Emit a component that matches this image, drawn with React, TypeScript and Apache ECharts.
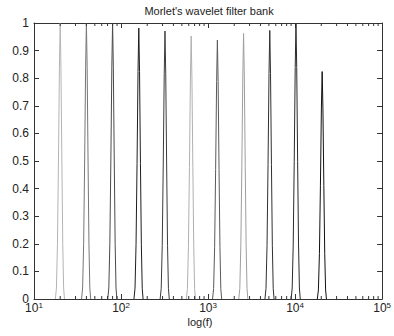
import React, { useEffect, useRef } from "react";
import * as echarts from "echarts";

// Filter centre frequencies (Hz) read from the peak positions
const centers = [20, 40, 80, 160, 320, 640, 1280, 2560, 5120, 10240, 20480];
// Peak heights
const peakHeights = [1.0, 1.0, 1.0, 0.982, 0.971, 0.953, 0.938, 0.962, 0.973, 0.998, 0.824];
// Grey shade of each filter curve
const peakColors = ["#b4b4b4", "#767676", "#4a4a4a", "#1e1e1e", "#3c3c3c", "#b0b0b0", "#5a5a5a", "#9e9e9e", "#303030", "#2a2a2a", "#111111"];
// Shape of one peak: f / fc and relative level
const profileRatio = [0.88, 0.905, 0.93, 0.955, 0.98, 1, 1.02, 1.045, 1.07, 1.095, 1.12];
const profileLevel = [0, 0.04, 0.2, 0.5, 0.84, 1, 0.84, 0.5, 0.2, 0.04, 0];

const yTickLabels = ["0", "0.1", "0.2", "0.3", "0.4", "0.5", "0.6", "0.7", "0.8", "0.9", "1"];
const xExponents = ["1", "2", "3", "4", "5"];
const xMin = 10;
const xMax = 100000;
const minorTickValues: number[] = [];
[10, 100, 1000, 10000].forEach((d) => {
  [2, 3, 4, 5, 6, 7, 8, 9].forEach((m) => minorTickValues.push(m * d));
});

const FONT = "'Liberation Sans', Arial, Helvetica, sans-serif";
const INK = "#222";
const AXIS = "#333";

export default function App() {
  const ref = useRef<HTMLDivElement>(null);
  useEffect(() => {
    if (!ref.current) return;
    const chart = echarts.init(ref.current, null, { renderer: "svg" });

    const peakSeries = centers.map((c, i) => ({
      type: "line",
      name: "filter " + (i + 1),
      data: profileRatio.map((r, j) => [c * r, peakHeights[i] * profileLevel[j]]),
      showSymbol: false,
      symbol: "none",
      lineStyle: { color: peakColors[i], width: 1 },
      xAxisIndex: 0,
      yAxisIndex: 0,
      z: 3,
    }));

    const axisLine = { show: true, onZero: false, lineStyle: { color: AXIS, width: 1 } };

    chart.setOption({
      animation: false,
      backgroundColor: "#ffffff",
      textStyle: { fontFamily: FONT },
      grid: { left: 34, right: 9, top: 23, bottom: 37, containLabel: false },
      graphic: [
        {
          type: "text",
          x: 209,
          y: 5,
          style: {
            text: "Morlet's wavelet filter bank",
            fontSize: 11,
            fontFamily: FONT,
            fill: INK,
            textAlign: "center",
          },
        },
        {
          type: "text",
          x: 200,
          y: 316,
          style: {
            text: "log(f)",
            fontSize: 11,
            fontFamily: FONT,
            fill: INK,
            textAlign: "center",
          },
        },
      ],
      xAxis: [
        {
          type: "log",
          logBase: 10,
          min: xMin,
          max: xMax,
          position: "bottom",
          axisLine,
          splitLine: { show: false },
          axisTick: { show: true, inside: true, length: 5, lineStyle: { color: AXIS } },
          axisLabel: {
            show: true,
            showMinLabel: true,
            showMaxLabel: true,
            hideOverlap: false,
            margin: 2,
            color: INK,
            fontFamily: FONT,
            formatter: (v: number) => {
              const e = Math.round(Math.log10(v));
              return "{b|10}{s|" + xExponents[e - 1] + "}";
            },
            rich: {
              b: { fontSize: 12, lineHeight: 13, verticalAlign: "bottom", fontFamily: FONT, color: INK },
              s: { fontSize: 8, lineHeight: 8, verticalAlign: "top", fontFamily: FONT, color: INK },
            },
          },
        },
        {
          type: "log",
          logBase: 10,
          min: xMin,
          max: xMax,
          position: "top",
          axisLine,
          splitLine: { show: false },
          axisTick: { show: true, inside: true, length: 5, lineStyle: { color: AXIS } },
          axisLabel: { show: false },
        },
      ],
      yAxis: [
        {
          type: "value",
          min: 0,
          max: 1,
          interval: 0.1,
          position: "left",
          axisLine,
          splitLine: { show: false },
          axisTick: { show: true, inside: true, length: 5, lineStyle: { color: AXIS } },
          axisLabel: {
            color: INK,
            fontSize: 12,
            lineHeight: 4,
            fontFamily: FONT,
            margin: 5,
            formatter: (v: number) => yTickLabels[Math.round(v * 10)],
          },
        },
        {
          type: "value",
          min: 0,
          max: 1,
          interval: 0.1,
          position: "right",
          axisLine,
          splitLine: { show: false },
          axisTick: { show: true, inside: true, length: 5, lineStyle: { color: AXIS } },
          axisLabel: { show: false },
        },
      ],
      series: [
        ...peakSeries,
        {
          type: "custom",
          name: "minor ticks",
          xAxisIndex: 0,
          yAxisIndex: 0,
          silent: true,
          z: 5,
          clip: false,
          data: minorTickValues.map((v) => [v, 0]),
          renderItem: (params: any, api: any) => {
            const f = api.value(0);
            const b = api.coord([f, 0]);
            const t = api.coord([f, 1]);
            return {
              type: "group",
              children: [
                {
                  type: "line",
                  shape: { x1: b[0], y1: b[1], x2: b[0], y2: b[1] - 3 },
                  style: { stroke: AXIS, lineWidth: 1 },
                },
                {
                  type: "line",
                  shape: { x1: t[0], y1: t[1], x2: t[0], y2: t[1] + 3 },
                  style: { stroke: AXIS, lineWidth: 1 },
                },
              ],
            };
          },
        },
      ],
    });

    return () => chart.dispose();
  }, []);

  return (
    <div
      ref={ref}
      style={{ position: "absolute", left: 0, top: 0, width: 394, height: 336 }}
    />
  );
}
